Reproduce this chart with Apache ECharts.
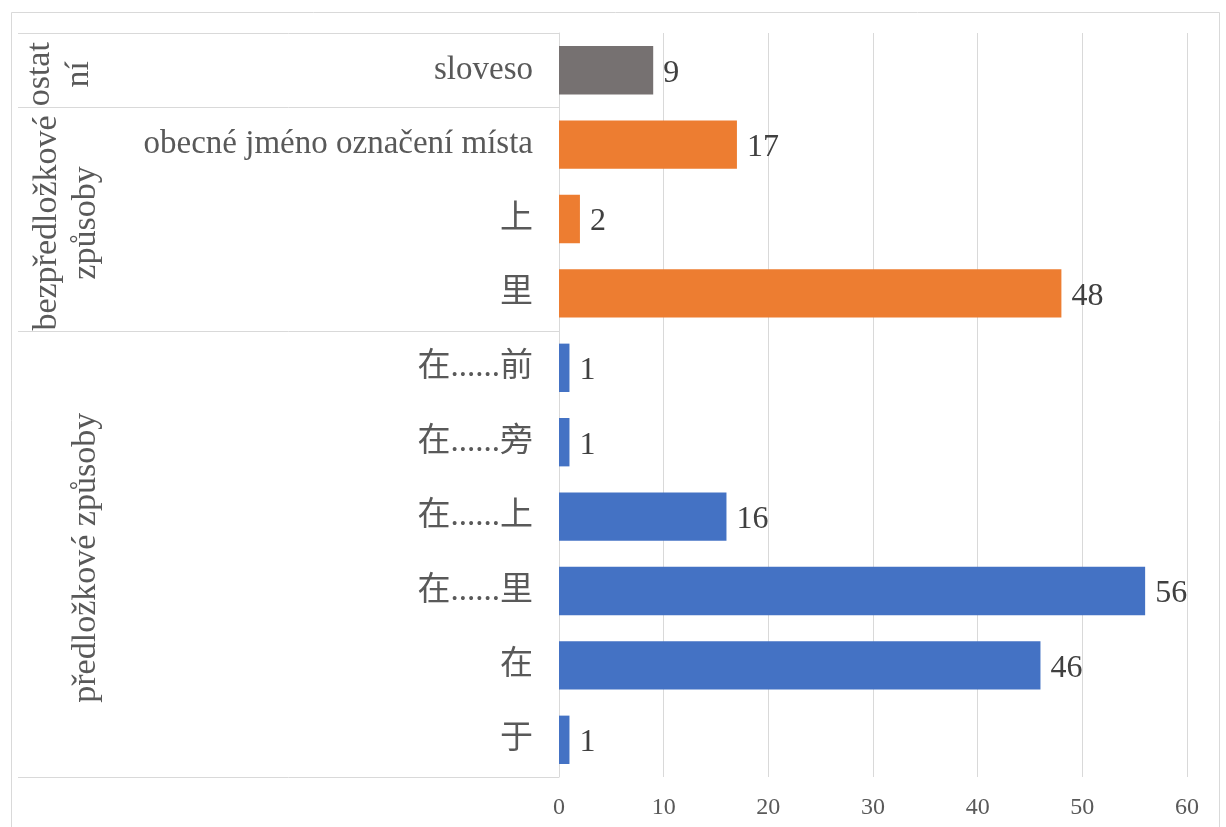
<!DOCTYPE html>
<html>
<head>
<meta charset="utf-8">
<script src="https://cdn.jsdelivr.net/npm/echarts@6/dist/echarts.min.js"></script>
<style>
  html, body { margin: 0; padding: 0; background: #fff; }
  #chart { width: 1226px; height: 827px; }
</style>
</head>
<body>
<div id="chart"></div>
<script>
// Categories from top to bottom, with their counts
const categories = [
  'sloveso',
  'obecné jméno označení místa',
  '上',
  '里',
  '在......前',
  '在......旁',
  '在......上',
  '在......里',
  '在',
  '于'
];
const counts = [9, 17, 2, 48, 1, 1, 16, 56, 46, 1];

// Outer grouping of the categories (top to bottom) and how many rows each spans
const groupLabels = ['ostat\nní', 'bezpředložkové\nzpůsoby', 'předložkové způsoby'];
const groupSizes = [1, 3, 6];
const groupColors = ['#767171', '#ED7D31', '#4472C4'];

// Value axis ticks
const xTicks = [0, 10, 20, 30, 40, 50, 60];

const FONT = "'Liberation Serif', 'Times New Roman', 'Noto Sans CJK SC', serif";
const LINE = '#d9d9d9';
const TEXT = '#595959';

// Colour of each row follows its group
const rowColors = [];
groupSizes.forEach((n, g) => { for (let i = 0; i < n; i++) rowColors.push(groupColors[g]); });

const chart = echarts.init(document.getElementById('chart'), null, { renderer: 'canvas' });

chart.setOption({
  backgroundColor: '#fff',
  animation: false,
  grid: { left: 559, right: 39, top: 33, bottom: 50, containLabel: false },
  xAxis: {
    type: 'value',
    min: xTicks[0],
    max: xTicks[xTicks.length - 1],
    interval: xTicks[1] - xTicks[0],
    axisLine: { show: false },
    axisTick: { show: false },
    splitLine: { show: true, lineStyle: { color: LINE, width: 1 } },
    axisLabel: { color: TEXT, fontFamily: FONT, fontSize: 24, margin: 19 }
  },
  yAxis: {
    type: 'category',
    inverse: true,
    data: categories,
    axisLine: { show: true, lineStyle: { color: LINE, width: 1 } },
    axisTick: { show: false },
    splitLine: { show: false },
    axisLabel: { color: TEXT, fontFamily: FONT, fontSize: 33, margin: 26, padding: [6, 0, 0, 0] }
  },
  series: [{
    type: 'bar',
    barCategoryGap: '35%',
    data: counts.map((v, i) => ({ value: v, itemStyle: { color: rowColors[i] } })),
    label: {
      show: true,
      position: 'right',
      distance: 10,
      offset: [0, 3],
      color: '#404040',
      fontFamily: FONT,
      fontSize: 32
    }
  }]
});

// Group table on the left: separators between groups and rotated group names
function drawGroups() {
  const px = i => chart.convertToPixel({ yAxisIndex: 0 }, i);
  const step = px(1) - px(0);
  const edge = i => (i < categories.length ? px(i) - step / 2 : px(categories.length - 1) + step / 2);
  const axisX = chart.convertToPixel({ xAxisIndex: 0 }, 0);

  const elements = [{
    type: 'rect',
    shape: { x: 11.5, y: 12.5, width: 1208, height: 840 },
    style: { fill: 'none', stroke: LINE, lineWidth: 1 },
    silent: true
  }];

  let start = 0;
  const bounds = [0];
  groupSizes.forEach(n => { start += n; bounds.push(start); });
  bounds.forEach(b => {
    const y = Math.round(edge(b)) + 0.5;
    elements.push({
      type: 'line',
      shape: { x1: 18, y1: y, x2: axisX, y2: y },
      style: { stroke: LINE, lineWidth: 1 },
      silent: true
    });
  });

  const labelX = [60, 67, 86];
  groupLabels.forEach((txt, g) => {
    const yMid = (edge(bounds[g]) + edge(bounds[g + 1])) / 2;
    elements.push({
      type: 'text',
      x: labelX[g],
      y: yMid + 4,
      rotation: Math.PI / 2,
      silent: true,
      style: {
        text: txt,
        fill: TEXT,
        fontFamily: FONT,
        fontSize: 34,
        lineHeight: 39,
        align: 'center',
        verticalAlign: 'middle'
      }
    });
  });

  chart.setOption({ graphic: { elements } });
}
drawGroups();
</script>
</body>
</html>
